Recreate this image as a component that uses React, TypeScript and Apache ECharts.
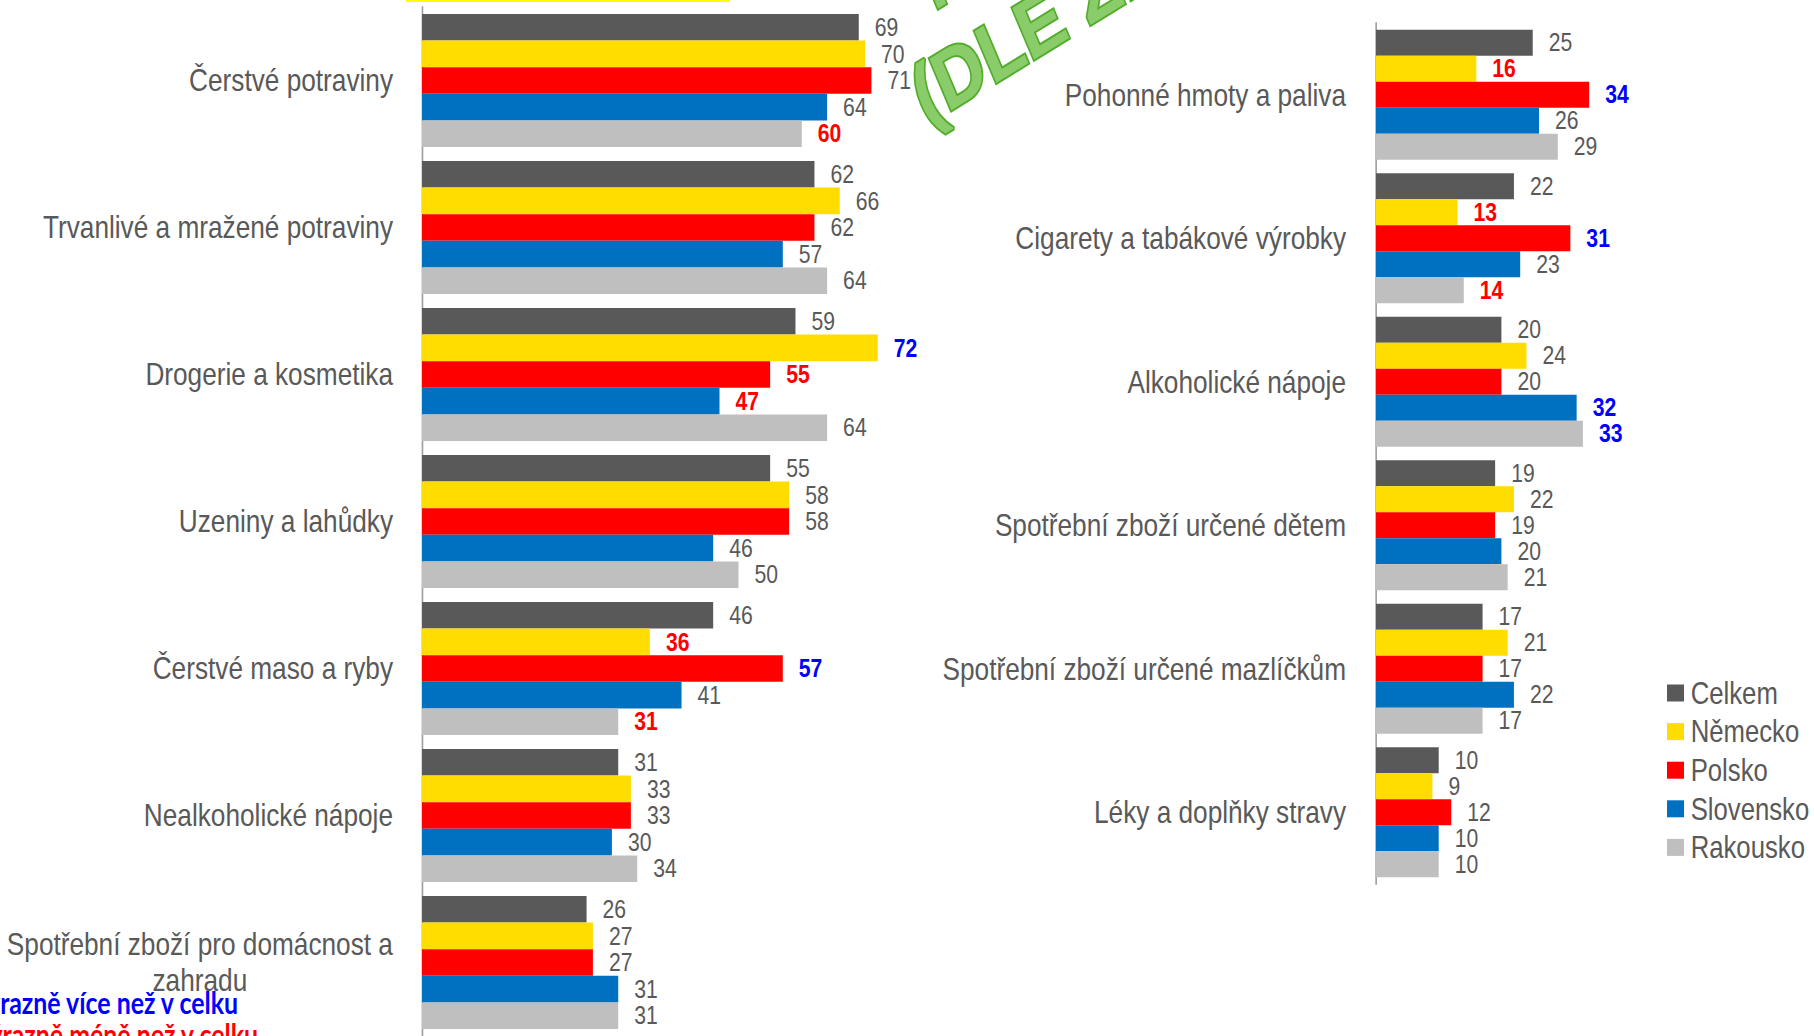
import React, { useEffect, useRef } from 'react';
import * as echarts from 'echarts';

// The reference is horizontally compressed; the chart is drawn wider and squeezed by SX.
const SX = 0.83;
const W = 1814;
const H = 1036;
const px = (v: number) => v / SX;

const FONT = "'Liberation Sans', Arial, sans-serif";
const TEXT_COLOR = '#595959';
const MORE_COLOR = '#0000FF';
const LESS_COLOR = '#FF0000';

const seriesNames = ['Celkem', 'Německo', 'Polsko', 'Slovensko', 'Rakousko'];
const seriesColors = ['#595959', '#FFDD00', '#FF0000', '#0070C0', '#BFBFBF'];

// Left panel
const leftCategories = [
  'Čerstvé potraviny',
  'Trvanlivé a mražené potraviny',
  'Drogerie a kosmetika',
  'Uzeniny a lahůdky',
  'Čerstvé maso a ryby',
  'Nealkoholické nápoje',
  'Spotřební zboží pro domácnost a\nzahradu',
];
const leftCelkem = [69, 62, 59, 55, 46, 31, 26];
const leftNemecko = [70, 66, 72, 58, 36, 33, 27];
const leftPolsko = [71, 62, 55, 58, 57, 33, 27];
const leftSlovensko = [64, 57, 47, 46, 41, 30, 31];
const leftRakousko = [60, 64, 64, 50, 31, 34, 31];
// 'm' = significantly more than overall, 'l' = significantly less
const leftCelkemFlags = ['', '', '', '', '', '', ''];
const leftNemeckoFlags = ['', '', 'm', '', 'l', '', ''];
const leftPolskoFlags = ['', '', 'l', '', 'm', '', ''];
const leftSlovenskoFlags = ['', '', 'l', '', '', '', ''];
const leftRakouskoFlags = ['l', '', '', '', 'l', '', ''];

// Right panel
const rightCategories = [
  'Pohonné hmoty a paliva',
  'Cigarety a tabákové výrobky',
  'Alkoholické nápoje',
  'Spotřební zboží určené dětem',
  'Spotřební zboží určené mazlíčkům',
  'Léky a doplňky stravy',
];
const rightCelkem = [25, 22, 20, 19, 17, 10];
const rightNemecko = [16, 13, 24, 22, 21, 9];
const rightPolsko = [34, 31, 20, 19, 17, 12];
const rightSlovensko = [26, 23, 32, 20, 22, 10];
const rightRakousko = [29, 14, 33, 21, 17, 10];
const rightCelkemFlags = ['', '', '', '', '', ''];
const rightNemeckoFlags = ['l', 'l', '', '', '', ''];
const rightPolskoFlags = ['m', 'm', '', '', '', ''];
const rightSlovenskoFlags = ['', '', 'm', '', '', ''];
const rightRakouskoFlags = ['', 'l', 'm', '', '', ''];

const noteMore = 'Výrazně více než v celku';
const noteLess = 'Výrazně méně než v celku';
const titleLine1 = 'NÁKUPY';
const titleLine2 = '(DLE ZEMÍ)';

const LABEL_SIZE = 31.6;

function buildSeries(values: number[], flags: string[], idx: number, axis: number, gap: string) {
  return {
    type: 'bar',
    name: seriesNames[idx],
    xAxisIndex: axis,
    yAxisIndex: axis,
    barGap: '0%',
    barCategoryGap: gap,
    itemStyle: { color: seriesColors[idx] },
    label: {
      show: true,
      position: 'right',
      distance: px(16),
      fontSize: 25.5,
      fontFamily: FONT,
      color: TEXT_COLOR,
    },
    data: values.map((v, i) =>
      flags[i]
        ? { value: v, label: { color: flags[i] === 'm' ? MORE_COLOR : LESS_COLOR, fontWeight: 'bold' } }
        : v
    ),
  };
}

function catAxis(grid: number, data: string[], margin: number) {
  return {
    type: 'category',
    gridIndex: grid,
    data,
    inverse: true,
    axisLine: { show: true, lineStyle: { color: '#A0A0A0', width: 2 } },
    axisTick: { show: false },
    axisLabel: {
      interval: 0,
      margin: px(margin),
      fontSize: LABEL_SIZE,
      fontFamily: FONT,
      color: TEXT_COLOR,
      formatter: (v: string) =>
        v.indexOf('\n') >= 0 ? v.split('\n').map((l) => `{c|${l}}`).join('\n') : v,
      rich: {
        c: { align: 'center', fontSize: LABEL_SIZE, fontFamily: FONT, color: TEXT_COLOR, lineHeight: 36 },
      },
    },
  };
}

export default function App() {
  const ref = useRef<HTMLDivElement>(null);
  useEffect(() => {
    document.body.style.margin = '0';
    if (!ref.current) return;
    const chart = echarts.init(ref.current, undefined, { renderer: 'svg' });

    // rotated green heading (pre-squeeze coordinates)
    const a = (27 * Math.PI) / 180;
    const ux = Math.cos(a), uy = -Math.sin(a);
    const nx = -Math.sin(a), ny = -Math.cos(a);
    const F = 84;
    const b2x = px(926), b2y = 124;
    const mid = 0.33 * F;
    const m2x = b2x + nx * mid, m2y = b2y + ny * mid;
    const b1x = b2x + nx * 98 + ux * 60, b1y = b2y + ny * 98 + uy * 60;
    const m1x = b1x + nx * mid, m1y = b1y + ny * mid;
    const titleStyle = {
      fontSize: F,
      fontWeight: 'bold',
      fontFamily: FONT,
      fill: '#8ACB6A',
      stroke: '#52AE2A',
      lineWidth: 4,
      align: 'left',
      verticalAlign: 'middle',
    };

    const option = {
      animation: false,
      backgroundColor: '#FFFFFF',
      grid: [
        { left: px(422), top: 7, width: px(633), height: 1029, outerBoundsMode: 'none', containLabel: false },
        { left: px(1376), top: 23, width: px(313.5), height: 861, outerBoundsMode: 'none', containLabel: false },
      ],
      xAxis: [
        { type: 'value', gridIndex: 0, min: 0, max: 100, show: false },
        { type: 'value', gridIndex: 1, min: 0, max: 50, show: false },
      ],
      yAxis: [catAxis(0, leftCategories, 29), catAxis(1, rightCategories, 30)],
      legend: {
        data: seriesNames,
        orient: 'vertical',
        left: px(1667),
        top: 676,
        padding: 0,
        itemWidth: px(17),
        itemHeight: 17,
        itemGap: 4.6,
        icon: 'rect',
        selectedMode: false,
        textStyle: { fontSize: 31, fontFamily: FONT, color: TEXT_COLOR, lineHeight: 34, padding: [0, 0, 0, 3] },
      },
      graphic: [
        { type: 'rect', shape: { x: px(406), y: 0, width: px(324), height: 2 }, style: { fill: '#FFFF00' }, silent: true },
        {
          type: 'text', x: m2x, y: m2y, rotation: a, silent: true,
          style: { ...titleStyle, text: titleLine2 },
        },
        {
          type: 'text', x: m1x, y: m1y, rotation: a, silent: true,
          style: { ...titleStyle, text: titleLine1 },
        },
        {
          type: 'text', x: px(238), y: 1003, silent: true,
          style: { text: noteMore, fontSize: 30, fontWeight: 'bold', fontFamily: 'Lato, sans-serif', fill: MORE_COLOR, align: 'right', verticalAlign: 'middle' },
        },
        {
          type: 'text', x: px(258), y: 1035, silent: true,
          style: { text: noteLess, fontSize: 30, fontWeight: 'bold', fontFamily: 'Lato, sans-serif', fill: LESS_COLOR, align: 'right', verticalAlign: 'middle' },
        },
      ],
      series: [
        buildSeries(leftCelkem, leftCelkemFlags, 0, 0, '9.5%'),
        buildSeries(leftNemecko, leftNemeckoFlags, 1, 0, '9.5%'),
        buildSeries(leftPolsko, leftPolskoFlags, 2, 0, '9.5%'),
        buildSeries(leftSlovensko, leftSlovenskoFlags, 3, 0, '9.5%'),
        buildSeries(leftRakousko, leftRakouskoFlags, 4, 0, '9.5%'),
        buildSeries(rightCelkem, rightCelkemFlags, 0, 1, '9.4%'),
        buildSeries(rightNemecko, rightNemeckoFlags, 1, 1, '9.4%'),
        buildSeries(rightPolsko, rightPolskoFlags, 2, 1, '9.4%'),
        buildSeries(rightSlovensko, rightSlovenskoFlags, 3, 1, '9.4%'),
        buildSeries(rightRakousko, rightRakouskoFlags, 4, 1, '9.4%'),
      ],
    };
    chart.setOption(option as any);
    return () => chart.dispose();
  }, []);
  return (
    <div style={{ position: 'absolute', left: 0, top: 0, width: W, height: H, overflow: 'hidden', background: '#FFFFFF' }}>
      <div
        ref={ref}
        style={{ width: W / SX, height: H, transform: `scaleX(${SX})`, transformOrigin: '0 0' }}
      />
    </div>
  );
}
